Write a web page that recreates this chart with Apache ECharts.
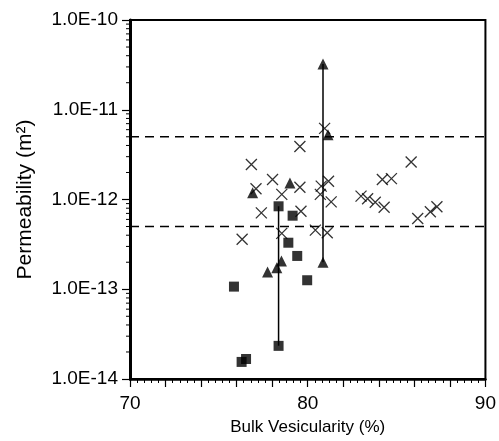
<!DOCTYPE html>
<html>
<head>
    <meta charset="utf-8" />
    <title>Permeability vs Bulk Vesicularity</title>
    <script src="https://cdn.jsdelivr.net/npm/echarts@6/dist/echarts.min.js"></script>
    <style>
        body, html { margin: 0; padding: 0; background: #fff; }
        #main { width: 499px; height: 441px; }
    </style>
</head>
<body>
<div id="main"></div>
<script>
    // crosses
    var crossX = [76.83, 85.82, 78.02, 79.56, 77.09, 78.54, 81.17, 80.76, 80.71, 81.32,
        84.2, 84.71, 83.0, 83.37, 83.8, 84.3, 86.9, 87.27, 86.19, 77.39,
        79.62, 78.54, 80.43, 81.1, 76.31, 79.56, 80.95];
    var crossY = [2.45e-12, 2.62e-12, 1.67e-12, 1.37e-12, 1.32e-12, 1.14e-12, 1.6e-12, 1.41e-12, 1.14e-12, 9.4e-13,
        1.67e-12, 1.71e-12, 1.09e-12, 1.02e-12, 9.3e-13, 8.2e-13, 7.3e-13, 8.3e-13, 6.15e-13, 7.1e-13,
        7.4e-13, 4.19e-13, 4.56e-13, 4.26e-13, 3.6e-13, 3.9e-12, 6.2e-12];

    // filled triangles
    var triX = [80.86, 81.14, 79.0, 76.9, 78.52, 78.26, 77.74, 80.86];
    var triY = [3.24e-11, 5.27e-12, 1.53e-12, 1.19e-12, 2.07e-13, 1.74e-13, 1.56e-13, 2.0e-13];

    // filled squares
    var sqX = [78.36, 79.15, 78.91, 79.41, 79.97, 75.85, 78.36, 76.28, 76.53];
    var sqY = [8.4e-13, 6.6e-13, 3.3e-13, 2.35e-13, 1.26e-13, 1.07e-13, 2.34e-14, 1.55e-14, 1.67e-14];

    // vertical range lines
    var range1X = [78.36, 78.36];
    var range1Y = [2.34e-14, 8.4e-13];
    var range2X = [80.86, 80.86];
    var range2Y = [2.0e-13, 3.24e-11];

    // dashed reference levels, drawn across the whole x range
    var refX = [70, 90];
    var refLevels = [5e-12, 5e-13];

    // log minor ticks
    var decades = [1e-14, 1e-13, 1e-12, 1e-11];
    var mantissas = [2, 3, 4, 5, 6, 7, 8, 9];

    function pairs(xs, ys) {
        var out = [];
        for (var i = 0; i < xs.length; i++) out.push([xs[i], ys[i]]);
        return out;
    }

    var minorTicks = [];
    for (var d = 0; d < decades.length; d++) {
        for (var m = 0; m < mantissas.length; m++) {
            minorTicks.push([70, mantissas[m] * decades[d]]);
        }
    }

    var font = "'Liberation Sans', Arial, Helvetica, sans-serif";
    var chart = echarts.init(document.getElementById('main'));

    var series = [
        {
            type: 'line', data: pairs(range1X, range1Y), symbol: 'none',
            lineStyle: { color: '#000', width: 1.5 }, z: 1
        },
        {
            type: 'line', data: pairs(range2X, range2Y), symbol: 'none',
            lineStyle: { color: '#000', width: 1.5 }, z: 1
        }
    ];
    refLevels.forEach(function (lv) {
        series.push({
            type: 'line', data: pairs(refX, [lv, lv]), symbol: 'none', silent: true,
            lineStyle: { color: '#000', width: 1.6, type: [9, 6] }, z: 2
        });
    });
    series.push(
        {
            type: 'scatter', data: pairs(crossX, crossY),
            symbol: 'path://M0,0L10,10M10,0L0,10', symbolSize: 11,
            itemStyle: { color: 'rgba(0,0,0,0)', borderColor: '#000', borderWidth: 1.3 },
            z: 3
        },
        {
            type: 'scatter', data: pairs(triX, triY),
            symbol: 'triangle', symbolSize: [11, 11],
            itemStyle: { color: '#000' }, z: 4
        },
        {
            type: 'scatter', data: pairs(sqX, sqY),
            symbol: 'rect', symbolSize: 10,
            itemStyle: { color: '#000' }, z: 4
        },
        {
            type: 'custom', data: minorTicks, clip: false, silent: true,
            renderItem: function (params, api) {
                var p = api.coord([api.value(0), api.value(1)]);
                return {
                    type: 'line',
                    shape: { x1: p[0] - 4, y1: p[1], x2: p[0], y2: p[1] },
                    style: { stroke: '#000', lineWidth: 1 }
                };
            },
            z: 5
        }
    );

    var option = {
        animation: false,
        grid: {
            left: 130, top: 20, right: 10, bottom: 61,
            show: true, borderColor: '#000', borderWidth: 2
        },
        xAxis: {
            type: 'value', min: 70, max: 90, interval: 2,
            name: 'Bulk Vesicularity (%)', nameLocation: 'middle', nameGap: 40,
            nameTextStyle: { color: '#000', fontSize: 17, fontFamily: font },
            axisLine: { show: true, lineStyle: { color: '#000', width: 2.5 } },
            axisTick: { show: true, length: 8, lineStyle: { color: '#000', width: 1.2 } },
            minorTick: { show: true, splitNumber: 5, length: 4, lineStyle: { color: '#000', width: 1 } },
            axisLabel: {
                color: '#000', fontSize: 19, fontFamily: font, margin: 15,
                formatter: function (v) { return v % 10 === 0 ? String(v) : ''; }
            },
            splitLine: { show: false }
        },
        yAxis: {
            type: 'log', logBase: 10, min: 1e-14, max: 1e-10,
            name: 'Permeability (m²)', nameLocation: 'middle', nameGap: 94,
            nameTextStyle: { color: '#000', fontSize: 21, fontFamily: font },
            axisLine: { show: true, lineStyle: { color: '#000', width: 3 } },
            axisTick: { show: true, length: 8, lineStyle: { color: '#000', width: 1.2 } },
            axisLabel: {
                color: '#000', fontSize: 19, fontFamily: font, margin: 12,
                formatter: function (v) { return v.toExponential(1).toUpperCase(); }
            },
            splitLine: { show: false }
        },
        series: series
    };

    chart.setOption(option);
</script>
</body>
</html>
